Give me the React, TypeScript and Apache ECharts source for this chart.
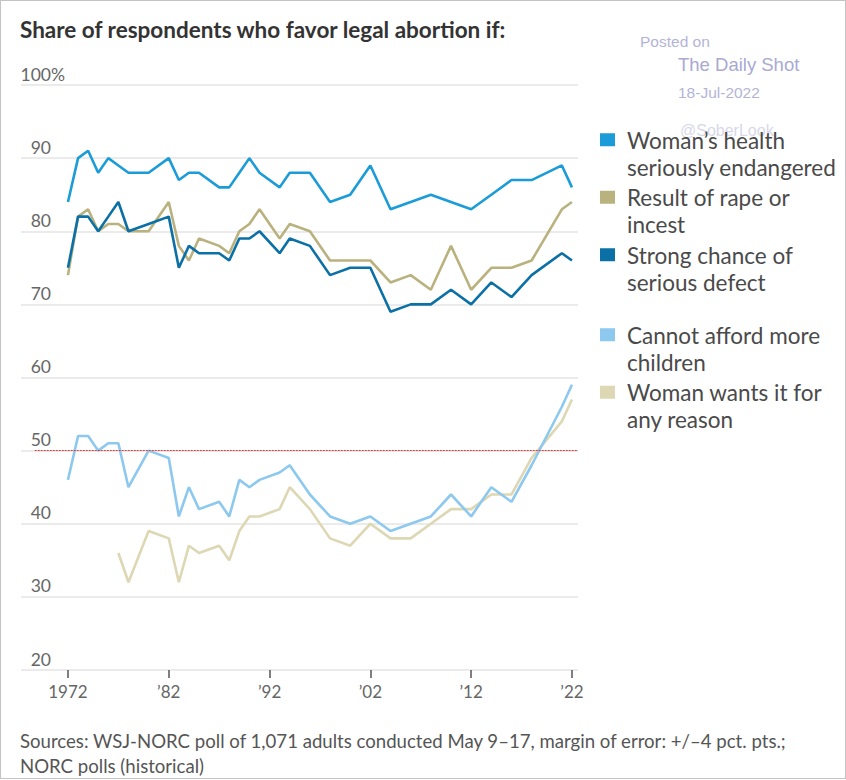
import React, { useEffect, useRef } from "react";
import * as echarts from "echarts";

const years = [1972, 1973, 1974, 1975, 1976, 1977, 1978, 1980, 1982, 1983, 1984, 1985, 1987, 1988, 1989, 1990, 1991, 1993, 1994, 1996, 1998, 2000, 2002, 2004, 2006, 2008, 2010, 2012, 2014, 2016, 2018, 2021, 2022];
const health = [84, 90, 91, 88, 90, 89, 88, 88, 90, 87, 88, 88, 86, 86, 88, 90, 88, 86, 88, 88, 84, 85, 89, 83, 84, 85, 84, 83, 85, 87, 87, 89, 86];
const rape = [74, 82, 83, 80, 81, 81, 80, 80, 84, 78, 76, 79, 78, 77, 80, 81, 83, 79, 81, 80, 76, 76, 76, 73, 74, 72, 78, 72, 75, 75, 76, 83, 84];
const defect = [75, 82, 82, 80, 82, 84, 80, 81, 82, 75, 78, 77, 77, 76, 79, 79, 80, 77, 79, 78, 74, 75, 75, 69, 70, 70, 72, 70, 73, 71, 74, 77, 76];
const afford = [46, 52, 52, 50, 51, 51, 45, 50, 49, 41, 45, 42, 43, 41, 46, 45, 46, 47, 48, 44, 41, 40, 41, 39, 40, 41, 44, 41, 45, 43, 48, 56, 59];
const anyReason = [null, null, null, null, null, 36, 32, 39, 38, 32, 37, 36, 37, 35, 39, 41, 41, 42, 45, 42, 38, 37, 40, 38, 38, 40, 42, 42, 44, 44, 49, 54, 57];

const seriesNames = [
  "Woman’s health seriously endangered",
  "Result of rape or incest",
  "Strong chance of serious defect",
  "Cannot afford more children",
  "Woman wants it for any reason",
];
const legendLabels = [
  "Woman’s health\nseriously endangered",
  "Result of rape or\nincest",
  "Strong chance of\nserious defect",
  "Cannot afford more\nchildren",
  "Woman wants it for\nany reason",
];
const colors = ["#1b9cd8", "#b9b27e", "#0b70a6", "#8dc8ee", "#ddd7b3"];
const tickYears = [1972, 1982, 1992, 2002, 2012, 2022];
const yTicks = { min: 20, max: 100, step: 10 };
const threshold = 50;

const title = "Share of respondents who favor legal abortion if:";
const sourceLines = [
  "Sources: WSJ-NORC poll of 1,071 adults conducted May 9–17, margin of error: +/–4 pct. pts.;",
  "NORC polls (historical)",
];

const FONT = "Lato, 'Noto Sans', sans-serif";
const WM_FONT = "'Liberation Sans', Arial, sans-serif";

export default function App() {
  const ref = useRef<HTMLDivElement>(null);

  useEffect(() => {
    if (!ref.current) return;
    const chart = echarts.init(ref.current, null, { renderer: "svg" });
    const values = [health, rape, defect, afford, anyReason];
    const mkData = (arr: (number | null)[]) => years.map((y, i) => [y, arr[i]]);
    const order = [4, 3, 1, 2, 0];
    const series: any[] = order.map((k) => ({
      type: "line",
      name: seriesNames[k],
      data: mkData(values[k]),
      symbol: "none",
      connectNulls: false,
      lineStyle: { color: colors[k], width: 2.6 },
      itemStyle: { color: colors[k] },
      z: 3,
    }));
    series.push({
      type: "line",
      name: "threshold",
      data: [],
      symbol: "none",
      markLine: {
        silent: true,
        symbol: ["none", "none"],
        label: { show: false },
        lineStyle: { color: "#e23b3b", type: [2, 1], width: 1.2 },
        data: [[{ coord: [1968.7, threshold] }, { coord: [2022.6, threshold] }]],
      },
      z: 2,
    });
    const legendIcon = "path://M0,0H15V13H0Z M0,40.5H0.01V40.51H0Z";
    const legendCommon = {
      orient: "vertical",
      left: 600,
      padding: 0,
      icon: legendIcon,
      itemWidth: 15,
      itemHeight: 41,
      itemGap: 3.5,
      selectedMode: false,
      itemStyle: { borderWidth: 0 },
      formatter: (name: string) => legendLabels[seriesNames.indexOf(name)],
      textStyle: { fontFamily: FONT, fontSize: 22.5, lineHeight: 27, color: "#4a4a4a", padding: [0, 0, 0, 7] },
    };
    chart.setOption({
      animation: false,
      backgroundColor: "#ffffff",
      grid: { left: 21, top: 85, width: 557, height: 585 },
      xAxis: {
        type: "value",
        min: 1967.34,
        max: 2022.6,
        splitLine: { show: false },
        axisLine: { show: false },
        axisTick: { show: true, customValues: tickYears, length: 8, lineStyle: { color: "#555", width: 1.5 } },
        axisLabel: {
          customValues: tickYears,
          margin: 13,
          fontFamily: FONT,
          fontSize: 17,
          color: "#666",
          formatter: (v: number) => (v === tickYears[0] ? String(v) : "’" + String(v).slice(2)),
        },
      },
      yAxis: [
        {
          type: "value",
          position: "left",
          min: yTicks.min,
          max: yTicks.max,
          interval: yTicks.step,
          axisLine: { show: false },
          axisTick: { show: false },
          splitLine: { lineStyle: { color: "#e5e5e5", width: 1.6 } },
          axisLabel: {
            align: "right",
            verticalAlign: "bottom",
            margin: -30,
            padding: [0, 0, 2, 0],
            fontFamily: FONT,
            fontSize: 17.5,
            color: "#666",
          },
        },
        {
          type: "value",
          position: "left",
          offset: 0,
          min: yTicks.min,
          max: yTicks.max,
          interval: yTicks.step,
          axisLine: { show: false },
          axisTick: { show: false },
          splitLine: { show: false },
          axisLabel: {
            align: "left",
            verticalAlign: "bottom",
            margin: -30,
            padding: [0, 0, 2, 0],
            fontFamily: FONT,
            fontSize: 17.5,
            color: "#666",
            formatter: (v: number) => (v === yTicks.max ? "%" : ""),
          },
        },
      ],
      legend: [
        { ...legendCommon, top: 126.5, data: seriesNames.slice(0, 3) },
        { ...legendCommon, top: 321.5, data: seriesNames.slice(3) },
      ],
      graphic: [
        { type: "text", left: 20, top: 18, style: { text: title, fontFamily: FONT, fontWeight: "bold", fontSize: 22.5, fill: "#333" } },
        { type: "text", left: 640, top: 33, z: 0, style: { text: "Posted on", fontFamily: WM_FONT, fontSize: 15.5, fill: "#b4b4d6" } },
        { type: "text", left: 678, top: 55, z: 0, style: { text: "The Daily Shot", fontFamily: WM_FONT, fontSize: 18.5, fill: "#a9a9d2" } },
        { type: "text", left: 678, top: 84, z: 0, style: { text: "18-Jul-2022", fontFamily: WM_FONT, fontSize: 15.5, fill: "#b4b4d6" } },
        { type: "text", left: 680, top: 122, z: 0, style: { text: "@SoberLook", fontFamily: WM_FONT, fontSize: 16, fill: "#d8d8e8" } },
        { type: "text", left: 20, top: 728, style: { text: sourceLines.join("\n"), fontFamily: FONT, fontSize: 18.6, lineHeight: 25, fill: "#555" } },
      ],
      series,
    });
    return () => chart.dispose();
  }, []);

  return (
    <div style={{ position: "fixed", left: 0, top: 0, width: 846, height: 780, background: "#fff" }}>
      <div ref={ref} style={{ position: "absolute", left: 0, top: 0, width: 846, height: 780 }} />
      <div
        style={{
          position: "absolute",
          left: 0,
          top: 0,
          width: 844,
          height: 777,
          border: "1px solid #c4c4c4",
          pointerEvents: "none",
        }}
      />
    </div>
  );
}
